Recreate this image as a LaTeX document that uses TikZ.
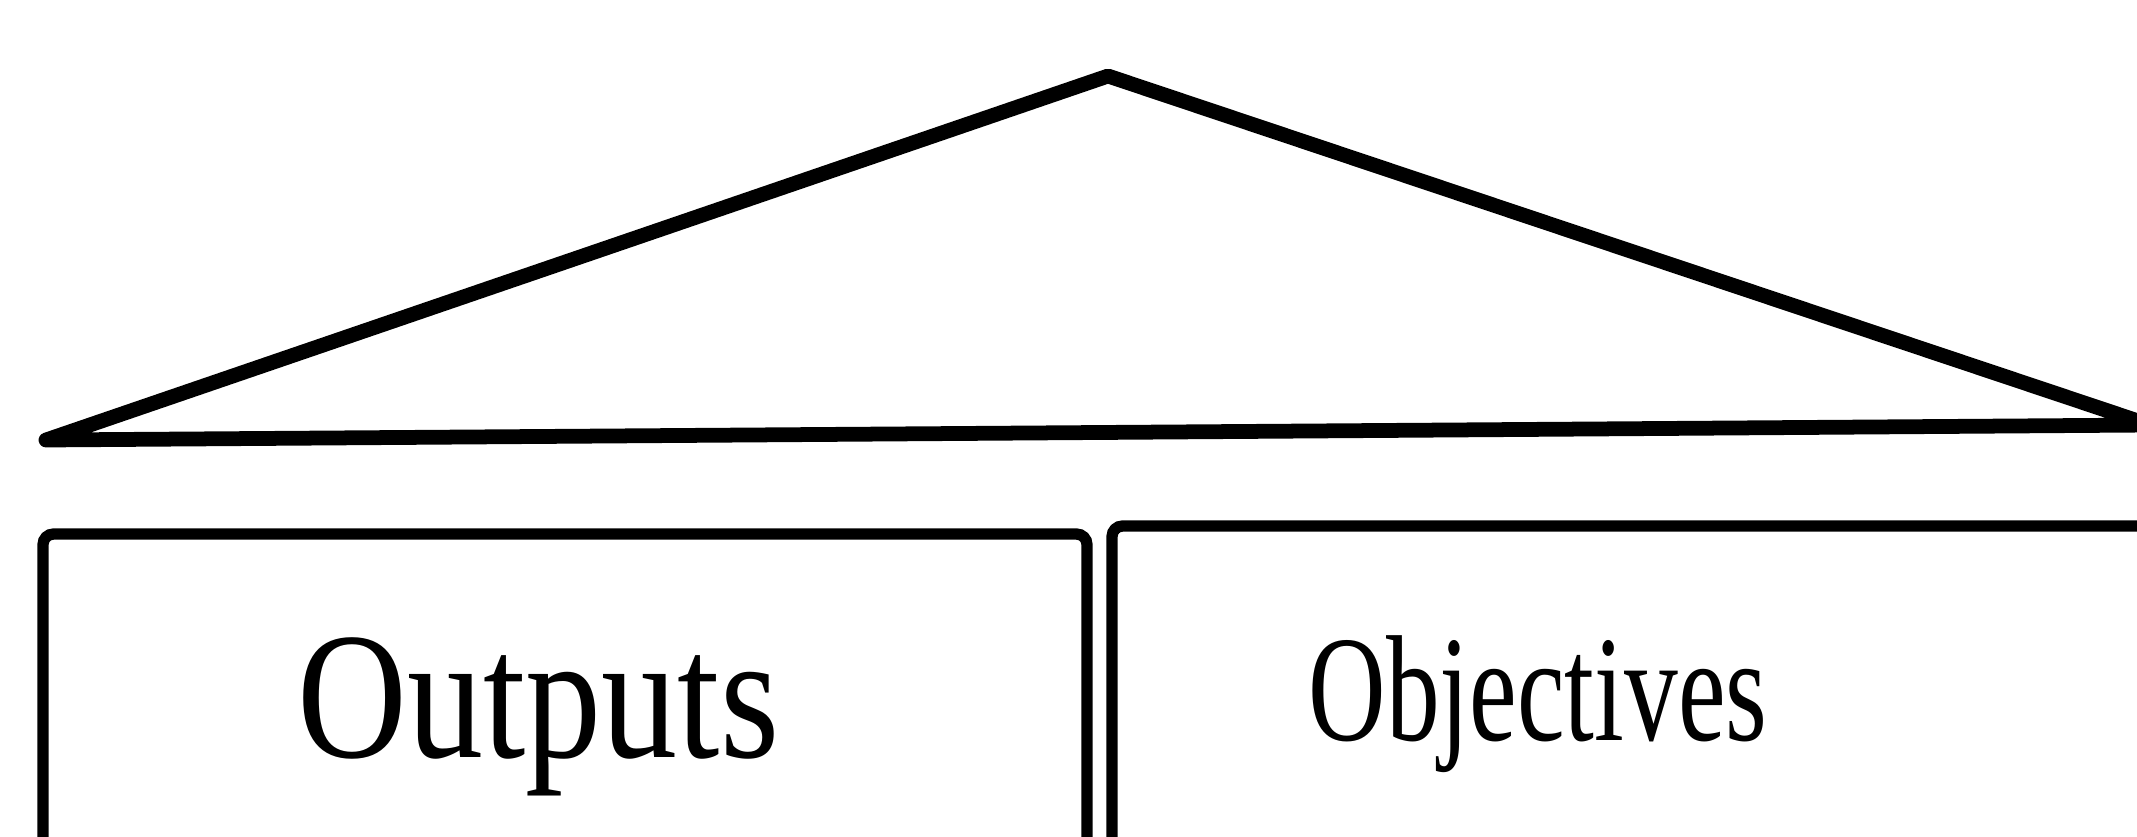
\documentclass[tikz,border=0pt]{standalone}
\usepackage{fontspec}
\newfontfamily\outfont[FakeStretch=0.84]{Liberation Serif}
\newfontfamily\objfont[FakeStretch=0.71]{Liberation Serif}
\usetikzlibrary{positioning}

\begin{document}
\begin{tikzpicture}[
  roof/.style={line width=4.2pt, line join=round},
  pillar/.style={draw, line width=3.2pt, rounded corners=3pt, inner sep=0pt, outer sep=0pt,
    minimum height=4cm, anchor=north west},
  word/.style={anchor=base, inner sep=0pt}]
  \useasboundingbox (0,0) rectangle (21.37,8.36);
  % roof
  \coordinate (eaveL) at (0.46,3.96);
  \coordinate (ridge) at (11.08,7.60);
  \coordinate (eaveR) at (21.50,4.11);
  \draw[roof] (eaveL) -- (ridge) -- (eaveR) -- cycle;
  % the two pillars
  \node[pillar, minimum width=10.44cm] (outbox) at (0.43,3.02) {};
  \node[pillar, minimum width=10.5cm] (objbox) at (11.12,3.10) {};
  \node[word, font=\outfont\fontsize{51.5}{60}\selectfont] (outtxt) at (5.385,0.79) {Outputs};
  \node[word, font=\objfont\fontsize{43}{50}\selectfont] (objtxt) at (15.38,0.96) {Objectives};
\end{tikzpicture}
\end{document}
